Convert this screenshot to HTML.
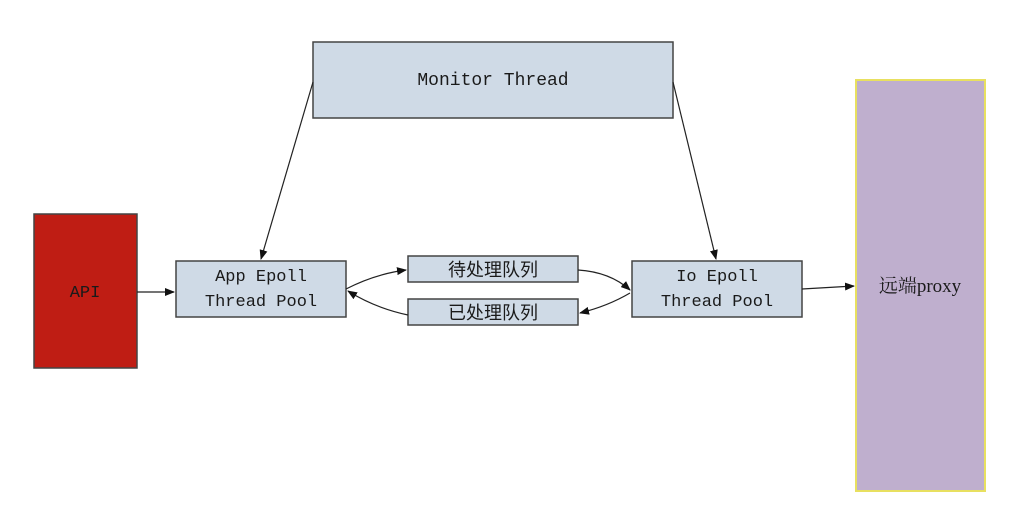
<!DOCTYPE html>
<html><head><meta charset="utf-8"><style>
html,body{margin:0;padding:0;background:#fff;}
svg{display:block;}
text{font-family:"Liberation Mono","Noto Sans CJK SC",monospace;fill:#1a1a1a;}
</style></head><body>
<svg width="1024" height="507" viewBox="0 0 1024 507" xmlns="http://www.w3.org/2000/svg">
<defs>
<marker id="a" markerWidth="10" markerHeight="8" refX="9" refY="4" orient="auto" markerUnits="userSpaceOnUse">
<path d="M0,0 L10,4 L0,8 z" fill="#111"/></marker>
</defs>
<rect x="313" y="42" width="360" height="76" fill="#cfdae6" stroke="#444" stroke-width="1.5"/>
<text x="493" y="85" text-anchor="middle" font-size="18">Monitor Thread</text>
<rect x="34" y="214" width="103" height="154" fill="#bf1d14" stroke="#444" stroke-width="1.5"/>
<text x="85" y="297" text-anchor="middle" font-size="17">API</text>
<rect x="176" y="261" width="170" height="56" fill="#cfdae6" stroke="#444" stroke-width="1.5"/>
<text x="261" y="281" text-anchor="middle" font-size="17">App Epoll</text>
<text x="261" y="306" text-anchor="middle" font-size="17">Thread Pool</text>
<rect x="408" y="256" width="170" height="26" fill="#cfdae6" stroke="#444" stroke-width="1.5"/>
<text x="493" y="276" text-anchor="middle" font-size="18">待处理队列</text>
<rect x="408" y="299" width="170" height="26" fill="#cfdae6" stroke="#444" stroke-width="1.5"/>
<text x="493" y="319" text-anchor="middle" font-size="18">已处理队列</text>
<rect x="632" y="261" width="170" height="56" fill="#cfdae6" stroke="#444" stroke-width="1.5"/>
<text x="717" y="281" text-anchor="middle" font-size="17">Io Epoll</text>
<text x="717" y="306" text-anchor="middle" font-size="17">Thread Pool</text>
<rect x="856" y="80" width="129" height="411" fill="#bfafce" stroke="#e8e060" stroke-width="2"/>
<text x="920" y="292" text-anchor="middle" font-size="19" style="font-family:'Liberation Serif','Noto Serif CJK SC',serif">远端proxy</text>
<g stroke="#222" stroke-width="1.2" fill="none" marker-end="url(#a)">
<line x1="313" y1="82" x2="261" y2="259"/>
<line x1="673" y1="82" x2="716" y2="259"/>
<line x1="137" y1="292" x2="174" y2="292"/>
<path d="M346,289 Q375,274 406,270"/>
<path d="M578,270 Q610,272 630,290"/>
<path d="M630,293 Q608,306 580,313"/>
<path d="M408,315 Q375,308 348,291"/>
<path d="M802,289 L854,286"/>
</g>
</svg>
</body></html>
